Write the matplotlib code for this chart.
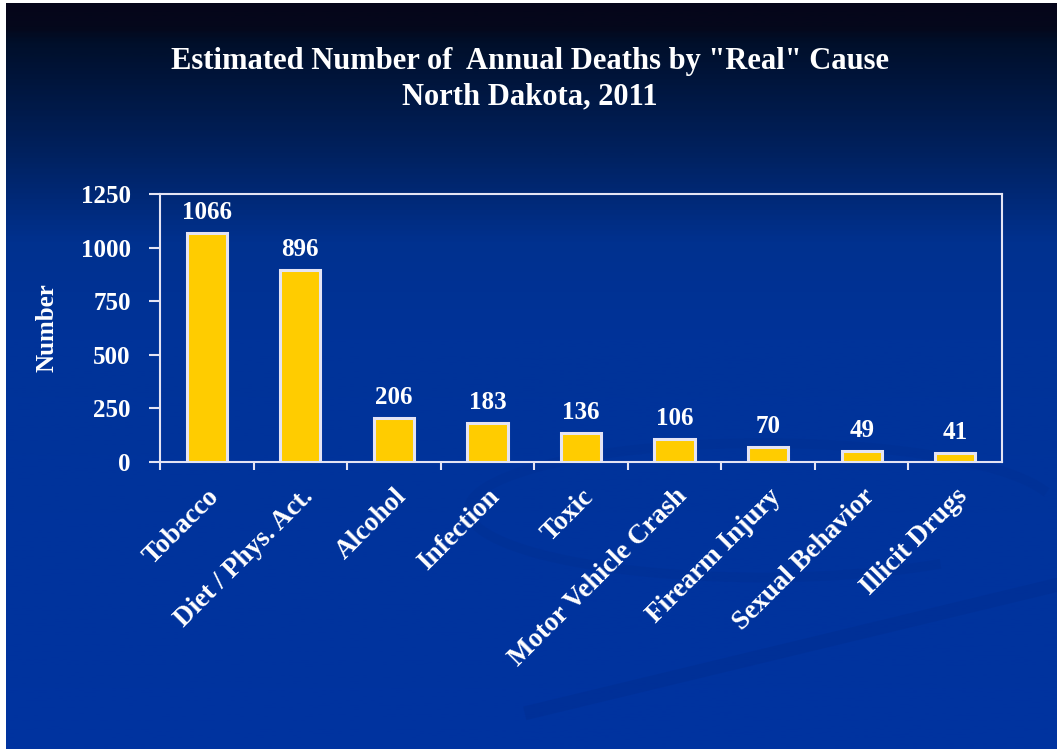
import numpy as np
import matplotlib
matplotlib.use('Agg')
import matplotlib.pyplot as plt
from matplotlib.colors import LinearSegmentedColormap

plt.rcParams.update({
    "font.family": "serif",
    "font.serif": ["Liberation Serif", "DejaVu Serif"],
    "font.weight": "bold",
})

causes = ["Tobacco", "Diet / Phys. Act.", "Alcohol", "Infection", "Toxic",
          "Motor Vehicle Crash", "Firearm Injury", "Sexual Behavior", "Illicit Drugs"]
deaths = [1066, 896, 206, 183, 136, 106, 70, 49, 41]
y_ticks = [0, 250, 500, 750, 1000, 1250]

fig = plt.figure(figsize=(10.6, 7.49), dpi=100, facecolor='white')

# background gradient (dark at top, blue below)
bg = fig.add_axes([6 / 1060, 0, 1 - 9 / 1060, 1 - 3 / 749], zorder=-10)
grad = np.linspace(0, 1, 400).reshape(-1, 1)
cmap = LinearSegmentedColormap.from_list('bg', [
    (0.0, '#05051a'), (0.03, '#05081c'), (0.05, '#000f2a'),
    (0.2, '#00215f'), (0.32, '#00318f'), (0.45, '#003399'), (1.0, '#0033a0')])
bg.imshow(grad, aspect='auto', cmap=cmap, extent=[0, 1, 1, 0])
# faint swoosh in the lower right
t = np.linspace(0, 1, 200)
bg.plot(0.5 + 0.5 * t, 0.95 - 0.17 * t, color='#002c8c', lw=10, alpha=0.35)
th = np.linspace(0.3 * np.pi, 1.9 * np.pi, 200)
bg.plot(0.72 + 0.28 * np.cos(th), 0.68 + 0.09 * np.sin(th), color='#002c8c', lw=7, alpha=0.25)
bg.set_xlim(0, 1)
bg.set_ylim(1, 0)
bg.axis('off')

ax = fig.add_axes([160 / 1060, 1 - 462 / 749, 842 / 1060, 268 / 749])
ax.set_facecolor('none')
x = np.arange(len(causes))
ax.bar(x, deaths, width=0.43, color='#ffcc00', edgecolor='#e4e4f4', linewidth=2.2, zorder=3)
for xi, v in zip(x, deaths):
    ax.text(xi, v + 42, str(v), ha='center', va='bottom', color='white',
            fontsize=18, fontweight='bold')

ax.set_xlim(-0.5, len(causes) - 0.5)
ax.set_ylim(0, 1250)
ax.set_yticks(y_ticks)
ax.set_yticklabels([str(v) for v in y_ticks], fontsize=18, color='white', fontweight='bold')
ax.set_xticks(x - 0.5, minor=False)
ax.set_xticks(x, minor=True)
ax.set_xticklabels([])
ax.set_xticklabels(causes, minor=True, rotation=45, ha='right', rotation_mode='anchor',
                   fontsize=19.5, color='white', fontweight='bold')
ax.tick_params(axis='x', which='minor', length=0, pad=16)
ax.tick_params(axis='x', which='major', length=6, color='#e4e4f4', width=1.5, direction='out')
ax.tick_params(axis='y', length=8, color='#e4e4f4', width=1.5, pad=13)
for s in ax.spines.values():
    s.set_color('#e4e4f4')
    s.set_linewidth(1.5)
ax.set_ylabel('Number', color='white', fontsize=18, fontweight='bold', labelpad=16)

fig.text(530 / 1060, 1 - 62 / 749, 'Estimated Number of  Annual Deaths by "Real" Cause',
         ha='center', va='center', color='white', fontsize=22, fontweight='bold')
fig.text(530 / 1060, 1 - 97 / 749, 'North Dakota, 2011',
         ha='center', va='center', color='white', fontsize=22, fontweight='bold')

fig.savefig('out.png', dpi=100, facecolor='white')
